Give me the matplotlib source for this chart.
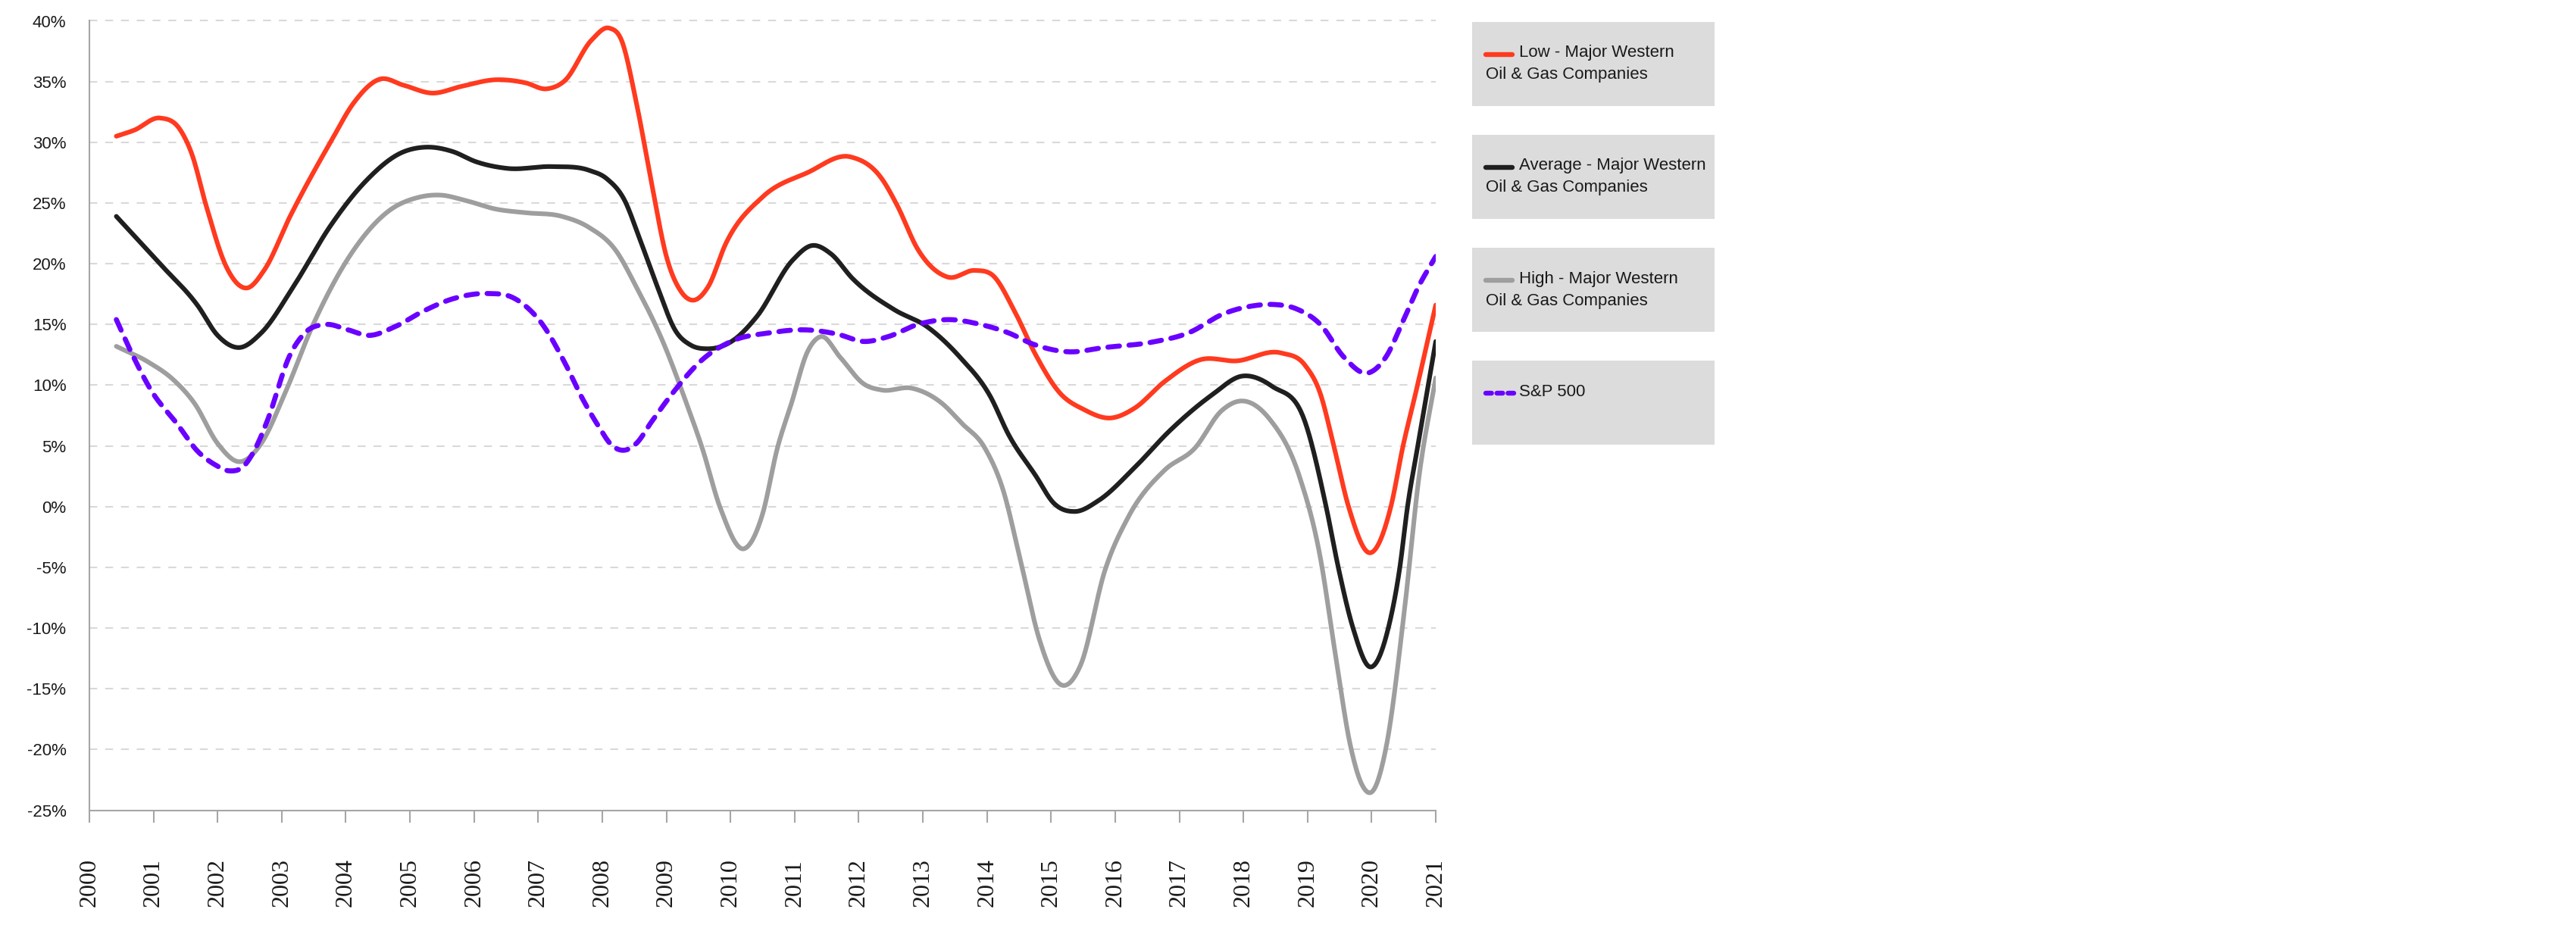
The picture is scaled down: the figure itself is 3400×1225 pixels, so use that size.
import matplotlib
matplotlib.use("Agg")
import matplotlib.pyplot as plt
import numpy as np
from matplotlib.patches import Rectangle
from matplotlib.lines import Line2D

# values (year, return in %)
low_years = [2000.42, 2000.7, 2001.1, 2001.42, 2001.6, 2001.82, 2002.14, 2002.45, 2002.73, 2003.13,
             2003.77, 2004.13, 2004.53, 2004.9, 2005.35, 2005.8, 2006.34, 2006.8, 2007.13, 2007.41,
             2007.83, 2008.11, 2008.3, 2008.53, 2008.77, 2009.0, 2009.23, 2009.4, 2009.65, 2009.93,
             2010.5, 2011.2, 2011.87, 2012.36, 2012.6, 2012.92, 2013.39, 2013.81, 2014.1, 2014.43,
             2014.76, 2015.13, 2015.51, 2015.93, 2016.3, 2016.77, 2017.33, 2017.89, 2018.59, 2018.96,
             2019.2, 2019.41, 2019.64, 2019.98, 2020.3, 2020.49, 2020.68, 2021.0]
low_vals = [30.5, 31.0, 32.0, 31.0, 29.0, 24.8, 19.7, 18.0, 19.5, 23.9,
            30.1, 33.3, 35.2, 34.7, 34.05, 34.6, 35.15, 34.9, 34.4, 35.05,
            38.4, 39.4, 38.4, 33.3, 26.6, 20.6, 17.7, 17.0, 18.1, 21.7,
            25.5, 27.5, 28.8, 27.0, 24.8, 21.2, 18.9, 19.45, 19.0, 16.1,
            12.5, 9.4, 8.0, 7.3, 8.1, 10.3, 12.1, 12.0, 12.65, 11.65,
            9.3, 5.0, 0.0, -3.8, 0.0, 5.0, 9.2, 16.6]

avg_years = [2000.42, 2001.1, 2001.69, 2002.0, 2002.34, 2002.68, 2003.18, 2003.77, 2004.31, 2004.85,
             2005.26, 2005.66, 2006.03, 2006.52, 2007.22, 2007.79, 2008.07, 2008.35, 2008.58, 2008.86,
             2009.14, 2009.38, 2009.63, 2010.03, 2010.41, 2010.97, 2011.27, 2011.57, 2011.9, 2012.56,
             2013.07, 2013.58, 2014.05, 2014.34, 2014.76, 2015.04, 2015.37, 2015.74, 2016.3, 2016.86,
             2017.51, 2017.98, 2018.45, 2018.96, 2019.29, 2019.48, 2019.71, 2019.98, 2020.26, 2020.44,
             2020.56, 2020.72, 2021.0]
avg_vals = [23.9, 20.0, 16.55, 14.1, 13.1, 14.3, 18.1, 23.2, 26.8, 29.1,
            29.6, 29.25, 28.4, 27.85, 28.0, 27.7, 27.0, 25.2, 22.1, 18.1,
            14.5, 13.3, 13.0, 13.65, 15.65, 20.3, 21.5, 20.8, 18.8, 16.2,
            14.8, 12.3, 9.1, 5.9, 2.55, 0.3, -0.4, 0.5, 3.2, 6.3,
            9.2, 10.75, 9.9, 7.0, 0.0, -5.0, -10.0, -13.2, -10.0, -5.0,
            0.0, 5.0, 13.6]

high_years = [2000.42, 2000.92, 2001.32, 2001.64, 2002.0, 2002.34, 2002.68, 2003.04, 2003.49, 2004.08,
              2004.67, 2005.12, 2005.48, 2005.84, 2006.34, 2006.8, 2007.37, 2007.79, 2008.21, 2008.53,
              2008.96, 2009.3, 2009.56, 2009.84, 2010.22, 2010.5, 2010.73, 2010.95, 2011.2, 2011.41,
              2011.71, 2012.08, 2012.36, 2012.83, 2013.3, 2013.6, 2013.97, 2014.25, 2014.53, 2014.81,
              2015.17, 2015.46, 2015.84, 2016.21, 2016.77, 2017.24, 2017.66, 2017.96, 2018.41, 2018.87,
              2019.2, 2019.43, 2019.67, 2019.85, 2020.02, 2020.23, 2020.51, 2020.74, 2021.0]
high_vals = [13.2, 11.9, 10.4, 8.5, 5.2, 3.7, 5.2, 9.2, 15.0, 20.8,
             24.35, 25.45, 25.65, 25.25, 24.5, 24.2, 23.9, 23.0, 21.1, 18.1,
             13.4, 8.7, 4.8, -0.1, -3.45, -0.6, 4.8, 8.5, 12.75, 14.0,
             12.3, 10.1, 9.6, 9.75, 8.5, 6.9, 4.8, 1.4, -4.6, -10.8,
             -14.7, -13.05, -5.25, -0.8, 3.0, 4.8, 7.9, 8.7, 7.2, 2.55,
             -4.2, -12.0, -19.7, -22.9, -23.4, -19.7, -8.6, 2.5, 10.6]

sp_years = [2000.42, 2000.69, 2000.96, 2001.37, 2001.69, 2001.96, 2002.18, 2002.41, 2002.59, 2002.77,
            2003.13, 2003.36, 2003.68, 2004.04, 2004.35, 2004.76, 2005.21, 2005.66, 2006.21, 2006.61,
            2006.85, 2007.04, 2007.41, 2007.69, 2007.92, 2008.16, 2008.35, 2008.53, 2008.77, 2009.09,
            2009.56, 2010.03, 2010.59, 2011.2, 2011.67, 2012.08, 2012.46, 2012.92, 2013.39, 2013.9,
            2014.34, 2014.71, 2015.27, 2015.83, 2016.58, 2017.14, 2017.7, 2018.17, 2018.45, 2018.82,
            2019.2, 2019.57, 2019.94, 2020.22, 2020.5, 2020.73, 2021.0]
sp_vals = [15.4, 12.3, 9.6, 6.8, 4.55, 3.45, 2.95, 3.35, 4.8, 7.0,
           12.5, 14.3, 15.0, 14.55, 14.1, 14.8, 16.1, 17.1, 17.55, 17.2,
           16.3, 15.2, 11.9, 8.9, 6.8, 5.0, 4.65, 5.2, 7.0, 9.3,
           12.1, 13.65, 14.3, 14.55, 14.2, 13.6, 14.0, 15.0, 15.4, 15.0,
           14.3, 13.4, 12.75, 13.1, 13.55, 14.3, 15.9, 16.55, 16.65, 16.3,
           15.0, 12.3, 11.0, 12.3, 15.4, 18.1, 20.6]

year_ticks = list(range(2000, 2022))
pct_ticks = list(range(-25, 41, 5))

legend_labels = [("Low - Major Western", "Oil & Gas Companies"),
                 ("Average - Major Western", "Oil & Gas Companies"),
                 ("High - Major Western", "Oil & Gas Companies"),
                 ("S&P 500", "")]

RED = "#ff3a1f"
BLACK = "#1f1f1f"
GREY = "#9e9e9e"
PURPLE = "#6a00ff"
TXT = "#1a1a1a"
SP_DASH = (2.3, 1.9)


def smooth(x, y, n=30):
    # smoothed line (cubic hermite through the read points)
    x = np.asarray(x, float)
    y = np.asarray(y, float)
    m = np.gradient(y, x)
    t = np.linspace(0, 1, n, endpoint=False)
    h00 = 2 * t**3 - 3 * t**2 + 1
    h10 = t**3 - 2 * t**2 + t
    h01 = -2 * t**3 + 3 * t**2
    h11 = t**3 - t**2
    xs, ys = [], []
    for i in range(len(x) - 1):
        h = x[i + 1] - x[i]
        xs.append(x[i] + t * h)
        ys.append(h00 * y[i] + h10 * h * m[i] + h01 * y[i + 1] + h11 * h * m[i + 1])
    xs.append([x[-1]])
    ys.append([y[-1]])
    return np.concatenate(xs), np.concatenate(ys)


W, H = 3400, 1225
fig = plt.figure(figsize=(17, 6.125), dpi=200)
ax = fig.add_axes([118 / W, (H - 1069.6) / H, (1895 - 118) / W, (1069.6 - 27.5) / H])

for v in pct_ticks[1:]:
    ax.axhline(v, color="#d9d9d9", lw=0.75, ls=(0, (5, 5)), zorder=0, clip_on=False)

ax.plot(*smooth(low_years, low_vals), color=RED, lw=2.2, solid_capstyle="round")
ax.plot(*smooth(avg_years, avg_vals), color=BLACK, lw=2.2, solid_capstyle="round")
ax.plot(*smooth(high_years, high_vals), color=GREY, lw=2.2, solid_capstyle="round")
ax.plot(*smooth(sp_years, sp_vals), color=PURPLE, lw=2.4, dashes=SP_DASH,
        dash_capstyle="round")

ax.set_xlim(2000, 2021)
ax.set_ylim(-25, 40)
ax.set_xticks(year_ticks)
ax.set_xticklabels([str(y) for y in year_ticks], rotation=90, va="bottom",
                   family="Liberation Serif", fontsize=11.5, color=TXT)
ax.set_yticks(pct_ticks)
ax.set_yticklabels([f"{v}%" for v in pct_ticks], family="Liberation Sans",
                   fontsize=8, color=TXT)
ax.tick_params(axis="x", length=5.8, width=0.75, color="#a6a6a6", pad=40)
ax.tick_params(axis="y", length=0, pad=11)
for side in ["top", "right"]:
    ax.spines[side].set_visible(False)
for side in ["left", "bottom"]:
    ax.spines[side].set_color("#a6a6a6")
    ax.spines[side].set_linewidth(0.75)

# legend boxes
styles = [dict(color=RED), dict(color=BLACK), dict(color=GREY),
          dict(color=PURPLE, dashes=(1.2, 1.1), dash_capstyle="round")]
for i, (line1, line2) in enumerate(legend_labels):
    top = 28.5 + i * 149.3
    fig.add_artist(Rectangle((1943 / W, 1 - (top + 111) / H), 320 / W, 111 / H,
                             transform=fig.transFigure, facecolor="#dcdcdc",
                             edgecolor="none"))
    ly = 1 - (top + 43) / H
    st = dict(lw=2.3, solid_capstyle="round")
    st.update(styles[i])
    x0, x1 = (1961, 1996) if i < 3 else (1961, 1998)
    fig.add_artist(Line2D([x0 / W, x1 / W], [ly, ly], transform=fig.transFigure, **st))
    fig.text(2005 / W, 1 - (top + 41) / H, line1, family="Liberation Sans", fontsize=8,
             color=TXT, va="center", ha="left")
    if line2:
        fig.text(1961 / W, 1 - (top + 70) / H, line2, family="Liberation Sans", fontsize=8,
                 color=TXT, va="center", ha="left")

fig.savefig("out.png", dpi=200, facecolor="white")
